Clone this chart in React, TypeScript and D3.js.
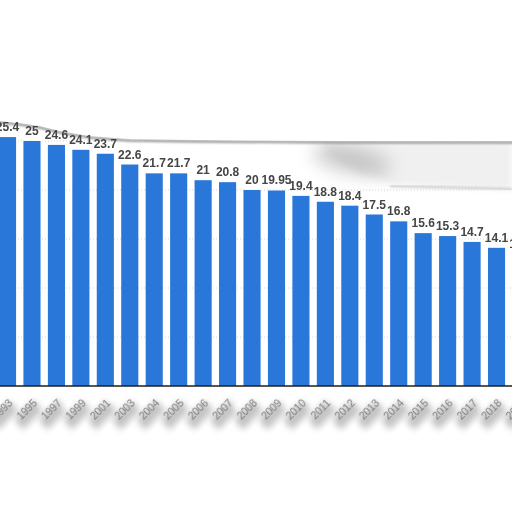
import * as d3 from "d3";

// years shown on the x axis (chart is cropped at both sides)
const years = [
  "1993", "1995", "1997", "1999", "2001", "2003", "2004", "2005", "2006", "2007", "2008",
  "2009", "2010", "2011", "2012", "2013", "2014", "2015", "2016", "2017", "2018", "2019",
];
const values = [
  25.4, 25, 24.6, 24.1, 23.7, 22.6, 21.7, 21.7, 21, 20.8, 20,
  19.95, 19.4, 18.8, 18.4, 17.5, 16.8, 15.6, 15.3, 14.7, 14.1, 13.5,
];
const gridTicks = [5, 10, 15, 20, 25];

const W = 512;
const H = 512;
const BAR = "#2a77da";

export default function App() {
  const step = 24.45;
  const x = d3
    .scaleBand<string>()
    .domain(years)
    .range([-4.7, -4.7 + years.length * step])
    .paddingInner(0.3)
    .paddingOuter(0.15);
  const y = d3.scaleLinear().domain([0, 30]).range([386, 92]);

  const fmt = (v: number) => String(v);

  // torn paper edge along the top
  const tearTop =
    "M-5,-5 L517,-5 L517,141 L400,141 L340,141 L200,140 L130,139 L90,136 L60,131 L40,126 L20,123 L0,121 L-5,121 Z";

  return (
    <svg
      width={W}
      height={H}
      style={{ position: "fixed", left: 0, top: 0, background: "#fff" }}
    >
      <defs>
        <filter id="blur9" x="-80%" y="-80%" width="260%" height="260%">
          <feGaussianBlur stdDeviation="9" />
        </filter>
        <filter id="blur3" x="-50%" y="-50%" width="200%" height="200%">
          <feGaussianBlur stdDeviation="3" />
        </filter>
        <filter id="blur1" x="-20%" y="-20%" width="140%" height="140%">
          <feGaussianBlur stdDeviation="1" />
        </filter>
        <filter id="soft" x="-20%" y="-20%" width="140%" height="140%">
          <feGaussianBlur stdDeviation="0.35" />
        </filter>
      </defs>

      <rect x={0} y={0} width={W} height={H} fill="#fff" />

      {/* grid */}
      {gridTicks.map((t) => (
        <line
          key={t}
          x1={0}
          x2={W}
          y1={y(t)}
          y2={y(t)}
          stroke="#d6d6d6"
          strokeDasharray="1,2"
        />
      ))}

      {/* bars */}
      {years.map((yr, i) => (
        <rect
          key={yr}
          x={x(yr)}
          y={y(values[i])}
          width={x.bandwidth()}
          height={y(0) - y(values[i])}
          fill={BAR}
        />
      ))}

      {/* baseline */}
      <line x1={0} x2={W} y1={y(0)} y2={y(0)} stroke="#1e1e1e" strokeWidth={1.6} />

      {/* top torn overlay with shadow */}
      <path d="M320,143 L512,141 L512,190 L440,187 L395,185 L360,174 L330,156 Z" fill="#f0f0f0" filter="url(#blur3)" />
      <ellipse cx={352} cy={160} rx={40} ry={13} fill="#a8a8a8" opacity={0.6} filter="url(#blur9)" transform="rotate(12 352 160)" />
      <path d="M390,186 L512,189" stroke="#c8c8c8" strokeWidth={2} filter="url(#blur1)" />
      <path d={tearTop} fill="none" stroke="#999" strokeWidth={2.5} filter="url(#blur1)" transform="translate(0,1.5)" />
      <path d={tearTop} fill="#fff" />

      {/* value labels */}
      {years.map((yr, i) => (
        <text
          key={yr}
          x={(x(yr) ?? 0) + x.bandwidth() / 2}
          y={y(values[i]) - 6}
          textAnchor="middle"
          fontFamily="'Liberation Sans', Arial, sans-serif"
          fontWeight="bold"
          fontSize={12}
          fill="#454545"
          filter="url(#soft)"
        >
          {fmt(values[i])}
        </text>
      ))}

      {/* x labels with blurred shadow beneath */}
      {years.map((yr) => {
        const cx = (x(yr) ?? 0) + x.bandwidth() / 2 + 3;
        return (
          <g key={yr} transform={`translate(${cx},401) rotate(-45)`}>
            <text
              textAnchor="end"
              dy="0.35em"
              y={5}
              x={-3}
              fontFamily="'Liberation Sans', Arial, sans-serif"
              fontSize={10.5}
              fill="#888"
              stroke="#888"
              strokeWidth={6}
              opacity={0.5}
              filter="url(#blur3)"
            >
              {yr}
            </text>
            <text
              textAnchor="end"
              dy="0.35em"
              fontFamily="'Liberation Sans', Arial, sans-serif"
              fontSize={10.5}
              fill="#7c7c7c"
              filter="url(#soft)"
            >
              {yr}
            </text>
          </g>
        );
      })}
    </svg>
  );
}
